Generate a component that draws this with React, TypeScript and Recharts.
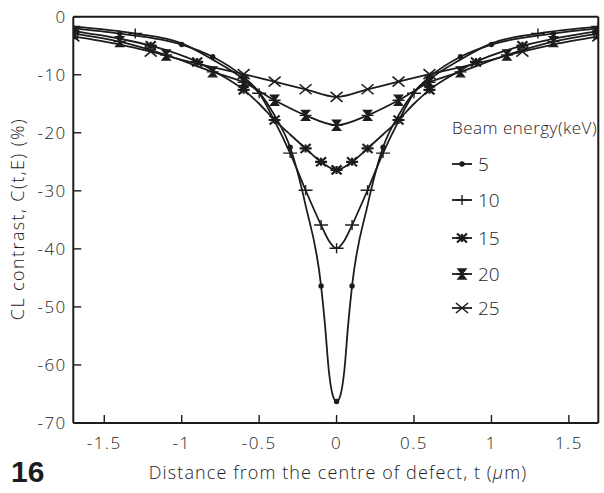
import React from 'react';
import { LineChart, Line, XAxis, YAxis, ReferenceLine, Legend } from 'recharts';

// ---- data ----
const x5 = [-1.7, -1.4, -1.0, -0.8, -0.6, -0.5, -0.4, -0.3, -0.2, -0.1, -0.075, -0.05, -0.025, 0, 0.025, 0.05, 0.075, 0.1, 0.2, 0.3, 0.4, 0.5, 0.6, 0.8, 1.0, 1.4, 1.69];
const y5 = [-2.0, -2.9, -4.8, -6.9, -10.4, -13.0, -17.0, -22.5, -32.5, -46.4, -53.0, -61.0, -65.2, -66.3, -65.2, -61.0, -53.0, -46.4, -32.5, -22.5, -17.0, -13.0, -10.4, -6.9, -4.8, -2.9, -2.0];
const m5 = [1, 1, 1, 1, 1, 0, 0, 1, 0, 1, 0, 0, 0, 1, 0, 0, 0, 1, 0, 1, 0, 0, 1, 1, 1, 1, 1];

const x10 = [-1.7, -1.3, -1.0, -0.8, -0.6, -0.5, -0.4, -0.3, -0.2, -0.1, -0.05, 0, 0.05, 0.1, 0.2, 0.3, 0.4, 0.5, 0.6, 0.8, 1.0, 1.3, 1.69];
const y10 = [-1.7, -2.9, -4.6, -7.4, -10.8, -13.2, -18.0, -23.5, -29.9, -35.9, -38.6, -39.9, -38.6, -35.9, -29.9, -23.5, -18.0, -13.2, -10.8, -7.4, -4.6, -2.9, -1.7];
const m10 = [1, 1, 0, 0, 0, 1, 0, 1, 1, 1, 0, 1, 0, 1, 1, 1, 0, 1, 0, 0, 0, 1, 1];

const x15 = [-1.7, -1.4, -1.2, -0.9, -0.75, -0.6, -0.5, -0.4, -0.3, -0.2, -0.1, 0, 0.1, 0.2, 0.3, 0.4, 0.5, 0.6, 0.75, 0.9, 1.2, 1.4, 1.69];
const y15 = [-2.5, -3.8, -5.0, -7.8, -10.0, -12.6, -15.0, -17.8, -20.3, -22.7, -25.0, -26.4, -25.0, -22.7, -20.3, -17.8, -15.0, -12.6, -10.0, -7.8, -5.0, -3.8, -2.5];
const m15 = [1, 0, 1, 1, 0, 1, 0, 1, 0, 1, 1, 1, 1, 1, 0, 1, 0, 1, 0, 1, 1, 0, 1];

const x20 = [-1.7, -1.4, -1.1, -0.8, -0.6, -0.4, -0.2, 0, 0.2, 0.4, 0.6, 0.8, 1.1, 1.4, 1.69];
const y20 = [-2.9, -4.3, -6.6, -9.5, -11.3, -14.4, -17.0, -18.7, -17.0, -14.4, -11.3, -9.5, -6.6, -4.3, -2.9];
const m20 = [1, 1, 1, 1, 1, 1, 1, 1, 1, 1, 1, 1, 1, 1, 1];

const x25 = [-1.7, -1.4, -1.2, -0.9, -0.6, -0.4, -0.2, 0, 0.2, 0.4, 0.6, 0.9, 1.2, 1.4, 1.69];
const y25 = [-3.4, -4.8, -6.0, -8.1, -9.9, -11.2, -12.5, -13.8, -12.5, -11.2, -9.9, -8.1, -6.0, -4.8, -3.4];
const m25 = [1, 0, 1, 0, 1, 1, 1, 1, 1, 1, 1, 0, 1, 0, 1];

const xTicks = [-1.5, -1, -0.5, 0, 0.5, 1, 1.5];
const xTickLabels = ['-1.5', '-1', '-0.5', '0', '0.5', '1', '1.5'];
const yTicks = [0, -10, -20, -30, -40, -50, -60, -70];
const yTickLabels = ['0', '-10', '-20', '-30', '-40', '-50', '-60', '-70'];
const energies = ['5', '10', '15', '20', '25'];
const markerKinds = ['dot', 'plus', 'star', 'hourglass', 'cross'];

const build = (xs: number[], ys: number[], ms: number[]) =>
  xs.map((x, i) => ({ x, y: ys[i], m: ms[i] === 1 }));

const series = [
  build(x5, y5, m5),
  build(x10, y10, m10),
  build(x15, y15, m15),
  build(x20, y20, m20),
  build(x25, y25, m25),
];

const INK = '#1c1c1c';
const FONT = "'Open Sans', 'Liberation Sans', Arial, sans-serif";
const W = 604;
const H = 493;

function Marker({ kind, cx, cy }: { kind: string; cx: number; cy: number }) {
  switch (kind) {
    case 'dot':
      return <circle cx={cx} cy={cy} r={2.7} fill={INK} />;
    case 'plus':
      return (
        <g stroke={INK} strokeWidth={1.4}>
          <line x1={cx - 7} x2={cx + 7} y1={cy} y2={cy} />
          <line x1={cx} x2={cx} y1={cy - 5} y2={cy + 5} />
        </g>
      );
    case 'star':
      return (
        <g stroke={INK} strokeWidth={2.2}>
          <line x1={cx - 6} x2={cx + 6} y1={cy} y2={cy} />
          <line x1={cx - 5} x2={cx + 5} y1={cy - 4.5} y2={cy + 4.5} />
          <line x1={cx - 5} x2={cx + 5} y1={cy + 4.5} y2={cy - 4.5} />
          <line x1={cx} x2={cx} y1={cy - 4} y2={cy + 4} />
        </g>
      );
    case 'hourglass':
      return (
        <g stroke={INK} strokeWidth={1.4} fill={INK}>
          <path d={`M${cx - 4},${cy - 5} H${cx + 4} L${cx - 4},${cy + 5} H${cx + 4} Z`} />
          <line x1={cx - 6} x2={cx + 6} y1={cy} y2={cy} />
        </g>
      );
    default:
      return (
        <g stroke={INK} strokeWidth={1.6}>
          <line x1={cx - 6} x2={cx + 6} y1={cy - 5} y2={cy + 5} />
          <line x1={cx - 6} x2={cx + 6} y1={cy + 5} y2={cy - 5} />
        </g>
      );
  }
}

const makeDot = (kind: string) => (p: any) => {
  const k = `d-${kind}-${p.index}`;
  if (!p.payload || !p.payload.m || p.cx == null || p.cy == null) return <g key={k} />;
  return <Marker key={k} kind={kind} cx={p.cx} cy={p.cy} />;
};

const XTick = (p: any) => {
  const i = xTicks.indexOf(p.payload.value);
  return (
    <g>
      <line x1={p.x} x2={p.x} y1={p.y} y2={p.y - 8} stroke={INK} strokeWidth={1.4} />
      <text x={p.x} y={p.y + 26} textAnchor="middle" fontFamily={FONT} fontWeight={300}
        fontSize={17} letterSpacing={1.5} fill={INK}>
        {i >= 0 ? xTickLabels[i] : String(p.payload.value)}
      </text>
    </g>
  );
};

const YTick = (p: any) => {
  const i = yTicks.indexOf(p.payload.value);
  return (
    <g>
      <line x1={p.x} x2={p.x + 8} y1={p.y} y2={p.y} stroke={INK} strokeWidth={1.4} />
      <text x={p.x - 6.5} y={p.y + 6} textAnchor="end" fontFamily={FONT} fontWeight={300}
        fontSize={17} letterSpacing={1.5} fill={INK}>
        {i >= 0 ? yTickLabels[i] : String(p.payload.value)}
      </text>
    </g>
  );
};

const XLabel = () => (
  <g>
    <text x={338} y={479} textAnchor="middle" fontFamily={FONT} fontWeight={300} fontSize={18}
      letterSpacing={1.1} fill={INK}>
      Distance from the centre of defect, t (<tspan fontStyle="italic">μ</tspan>m)
    </text>
    <text x={11} y={482} fontFamily="'Liberation Sans', Arial, sans-serif" fontWeight={700} fontSize={30} fill={INK}>
      16
    </text>
  </g>
);

const YLabel = () => (
  <text x={17} y={219} transform="rotate(-90 17 219)" textAnchor="middle" dominantBaseline="central"
    fontFamily={FONT} fontWeight={300} fontSize={18} letterSpacing={1.4} fill={INK}>
    CL contrast, C(t,E) (%)
  </text>
);

const legendY = [164, 200, 238, 274, 308];

const LegendContent = () => (
  <svg width={W} height={H} style={{ position: 'absolute', left: 0, top: 0, overflow: 'visible' }}>
    <text x={452} y={134} fontFamily={FONT} fontWeight={300} fontSize={17} letterSpacing={0.5} fill={INK}>
      Beam energy(keV)
    </text>
    {energies.map((e, i) => (
      <g key={e}>
        <line x1={452} x2={472} y1={legendY[i]} y2={legendY[i]} stroke={INK} strokeWidth={1.8} />
        <Marker kind={markerKinds[i]} cx={462} cy={legendY[i]} />
        <text x={478} y={legendY[i] + 7} fontFamily={FONT} fontWeight={300} fontSize={19} fill={INK}>
          {e}
        </text>
      </g>
    ))}
  </svg>
);

export default function App() {
  return (
    <div style={{ width: W, height: H, overflow: 'hidden' }}>
      <style>{'html,body{margin:0;padding:0;overflow:hidden;}'}</style>
      <LineChart width={W} height={H} margin={{ top: 16.7, right: 5.7, left: 0, bottom: 0 }}>
        <XAxis dataKey="x" type="number" domain={[-1.7, 1.69]} ticks={xTicks} interval={0}
          allowDataOverflow tickLine={false} tickSize={0} tickMargin={0} tick={<XTick />}
          axisLine={{ stroke: INK, strokeWidth: 2 }} height={70} label={<XLabel />} />
        <YAxis type="number" domain={[-70, 0]} ticks={yTicks} interval={0} allowDataOverflow
          tickLine={false} tickSize={0} tickMargin={0} tick={<YTick />}
          axisLine={{ stroke: INK, strokeWidth: 2 }} width={73.3} label={<YLabel />} />
        <ReferenceLine y={0} stroke={INK} strokeWidth={2} />
        <ReferenceLine x={1.69} stroke={INK} strokeWidth={2} />
        {series.map((d, i) => (
          <Line key={energies[i]} data={d} dataKey="y" type="monotone" stroke={INK} strokeWidth={1.8}
            dot={makeDot(markerKinds[i])} activeDot={false} isAnimationActive={false} />
        ))}
        <Legend layout="horizontal" verticalAlign="middle" align="center" content={<LegendContent />}
          wrapperStyle={{ position: 'absolute', left: 0, top: 0, width: W, height: H, pointerEvents: 'none' }} />
      </LineChart>
    </div>
  );
}
